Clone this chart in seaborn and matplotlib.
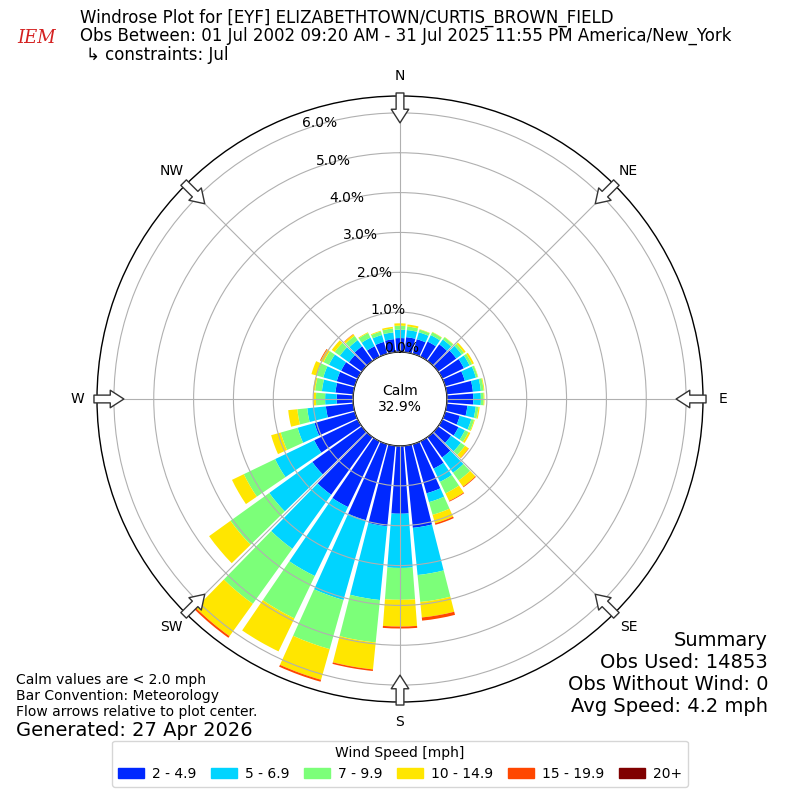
import numpy as np
import pandas as pd
import matplotlib
matplotlib.use('Agg')
import matplotlib.pyplot as plt
import seaborn as sns
from matplotlib.patches import Patch

# 풍향 (10도 간격), 풍속 구간
directions = np.arange(0, 360, 10)
speed_bins = ['2 - 4.9', '5 - 6.9', '7 - 9.9', '10 - 14.9', '15 - 19.9', '20+']
bin_colors = ['#0028ff', '#00d4ff', '#7cff79', '#ffe600', '#ff4700', '#800000']

# 각 풍향별 빈도 [%]
pct_2_5 = [0.35, 0.38, 0.38, 0.42, 0.51, 0.56, 0.60, 0.51, 0.66, 0.66,
           0.52, 0.38, 0.45, 0.40, 0.63, 0.76, 1.28, 2.07, 1.70, 2.03,
           1.98, 1.83, 1.78, 1.53, 1.21, 1.05, 0.69, 0.41, 0.45, 0.47,
           0.46, 0.40, 0.45, 0.29, 0.31, 0.33]
pct_5_7 = [0.21, 0.18, 0.18, 0.18, 0.15, 0.17, 0.16, 0.29, 0.20, 0.19,
           0.21, 0.30, 0.18, 0.30, 0.47, 0.37, 0.23, 1.19, 1.36, 1.86,
           2.08, 1.92, 1.67, 1.33, 1.09, 0.44, 0.47, 0.29, 0.34, 0.35,
           0.34, 0.28, 0.19, 0.24, 0.18, 0.17]
pct_7_10 = [0.10, 0.09, 0.07, 0.08, 0.07, 0.07, 0.07, 0.05, 0.07, 0.07,
            0.07, 0.07, 0.10, 0.13, 0.24, 0.32, 0.33, 0.68, 0.80, 1.07,
            1.28, 1.18, 1.70, 1.20, 0.87, 0.44, 0.25, 0.23, 0.17, 0.17,
            0.15, 0.16, 0.13, 0.13, 0.09, 0.10]
pct_10_15 = [0.06, 0.05, 0.01, 0.01, 0.01, 0.05, 0.05, 0.01, 0.02, 0.02,
             0.03, 0.02, 0.05, 0.11, 0.19, 0.21, 0.22, 0.39, 0.67, 0.68,
             0.80, 0.92, 1.00, 0.66, 0.33, 0.25, 0.23, 0.07, 0.05, 0.14,
             0.08, 0.09, 0.05, 0.02, 0.02, 0.04]
pct_15_20 = [0, 0, 0, 0, 0, 0, 0, 0, 0, 0,
             0, 0, 0, 0.01, 0.02, 0.02, 0.04, 0.08, 0.05, 0.04,
             0.05, 0, 0.05, 0, 0, 0, 0, 0, 0, 0,
             0.02, 0, 0.01, 0, 0, 0]
pct_20 = [0] * 36

calm_pct = 32.9

df = pd.DataFrame({'dir': directions, '2 - 4.9': pct_2_5, '5 - 6.9': pct_5_7,
                   '7 - 9.9': pct_7_10, '10 - 14.9': pct_10_15,
                   '15 - 19.9': pct_15_20, '20+': pct_20})

sns.set_style('white', rc={'text.color': 'black', 'axes.edgecolor': 'black',
                           'xtick.color': 'black', 'ytick.color': 'black',
                           'grid.color': '#b0b0b0', 'grid.linewidth': 0.8})
palette = sns.color_palette(bin_colors)

fig = plt.figure(figsize=(8, 8), dpi=100)
ax = fig.add_axes([0.12125, 0.1225, 0.7575, 0.7575], projection='polar')
ax.set_theta_zero_location('N')
ax.set_theta_direction(-1)

theta = np.deg2rad(df['dir'])
width = np.deg2rad(8.6)
bottom = np.zeros(len(df))
for name, col in zip(speed_bins, palette):
    ax.bar(theta, df[name], width=width, bottom=bottom, color=col,
           linewidth=0, zorder=2)
    bottom += df[name].values

rmax = 6.424
ax.set_ylim(0, rmax)
ax.set_rorigin(-1.179)

ax.set_yticks(range(7))
ax.set_yticklabels([f'{v:.1f}%' for v in range(7)], fontsize=10)
ax.set_rlabel_position(-20)
ax.set_xticks(np.deg2rad(np.arange(0, 360, 45)))
ax.set_xticklabels([])
ax.grid(True)
ax.set_axisbelow(False)
for sp in ax.spines.values():
    sp.set_color('black')
    sp.set_linewidth(1)

# 방위 라벨과 화살표
compass = ['N', 'NE', 'E', 'SE', 'S', 'SW', 'W', 'NW']
for i, lab in enumerate(compass):
    th = np.deg2rad(i * 45)
    ax.text(th, 6.926, lab, ha='center', va='center', fontsize=10)
    ax.annotate('', xy=(th, 5.75), xytext=(th, 6.50),
                arrowprops=dict(arrowstyle='simple,head_length=0.7,head_width=0.9,tail_width=0.4',
                                fc='white', ec='#333333', lw=1,
                                shrinkA=0, shrinkB=0, mutation_scale=14),
                annotation_clip=False, zorder=5)

ax.text(0.5, 0.5, f'Calm\n{calm_pct}%', transform=ax.transAxes,
        ha='center', va='center', fontsize=10)

# 제목
fig.text(80 / 800, 1 - 18 / 800, 'Windrose Plot for [EYF] ELIZABETHTOWN/CURTIS_BROWN_FIELD',
         fontsize=12, va='center')
fig.text(80 / 800, 1 - 36 / 800,
         'Obs Between: 01 Jul 2002 09:20 AM - 31 Jul 2025 11:55 PM America/New_York',
         fontsize=12, va='center')
fig.text(86 / 800, 1 - 55 / 800, '\u21b3 constraints: Jul', fontsize=12, va='center')
fig.text(37 / 800, 1 - 38 / 800, 'IEM', fontsize=13, color='#d42020',
         style='italic', family='serif', ha='center', va='center')

# 요약
summary = ['Summary', 'Obs Used: 14853', 'Obs Without Wind: 0', 'Avg Speed: 4.2 mph']
for k, line in enumerate(summary):
    fig.text(768 / 800, 1 - (640 + 22 * k) / 800, line,
             fontsize=14, ha='right', va='center')
notes = ['Calm values are < 2.0 mph', 'Bar Convention: Meteorology',
         'Flow arrows relative to plot center.']
for k, line in enumerate(notes):
    fig.text(16 / 800, 1 - (680 + 16 * k) / 800, line, fontsize=10, va='center')
fig.text(16 / 800, 1 - 730 / 800, 'Generated: 27 Apr 2026', fontsize=14, va='center')

handles = [Patch(color=c) for c in palette]
fig.legend(handles, speed_bins, loc='lower center', bbox_to_anchor=(0.5, 0.008),
           ncol=6, title='Wind Speed [mph]', fontsize=10, title_fontsize=10,
           columnspacing=1.05, handlelength=1.85, handletextpad=0.6)

fig.savefig('out.png', dpi=100)
